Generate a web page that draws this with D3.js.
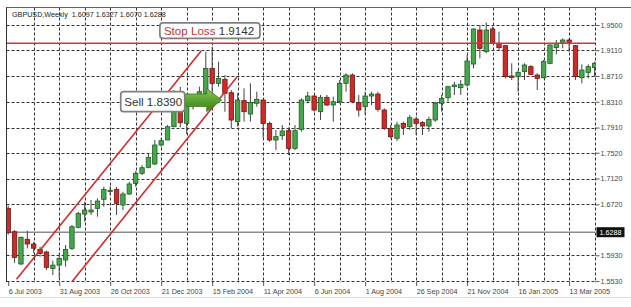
<!DOCTYPE html>
<meta charset="utf-8">
<html>
<head>
<style>
  body { margin: 0; background: #fff; }
  svg text { font-family: "Liberation Sans", Arial, sans-serif; }
</style>
</head>
<body>
<script src="https://d3js.org/d3.v7.min.js"></script>
<div id="chart"></div>
<script>

// weekly GBPUSD candles, week of 6 Jul 2003 up to 10 Apr 2005 (93 bars)
var open = [1.6658,1.6296,1.5795,1.6178,1.6105,1.6022,1.5981,1.5727,1.5778,1.5857,
            1.6038,1.6364,1.6570,1.6601,1.6658,1.6798,1.6920,1.6953,1.6709,1.6880,
            1.7046,1.7201,1.7294,1.7345,1.7640,1.7717,1.7923,1.8208,1.7976,1.8260,
            1.8415,1.8441,1.8828,1.8596,1.8658,1.8451,1.8001,1.8327,1.8120,1.8286,
            1.8337,1.7975,1.7717,1.7784,1.7862,1.7588,1.7882,1.8327,1.8399,1.8156,
            1.8379,1.8260,1.8311,1.8596,1.8725,1.8296,1.8234,1.8399,1.8430,1.8182,
            1.7898,1.7743,1.7975,1.7924,1.8043,1.7986,1.7934,1.8027,1.8286,1.8373,
            1.8544,1.8528,1.8570,1.8895,1.9422,1.9087,1.9438,1.9216,1.9180,1.8709,
            1.8699,1.8777,1.8854,1.8725,1.8683,1.8906,1.9149,1.9231,1.9267,1.9180,
            1.8683,1.8766,1.8839];
var high = [1.6700,1.6320,1.6220,1.6310,1.6140,1.6063,1.6000,1.5846,1.5960,1.6089,
            1.6400,1.6605,1.6760,1.6787,1.6813,1.6993,1.7000,1.6993,1.6916,1.7070,
            1.7237,1.7330,1.7511,1.7717,1.7744,1.7950,1.8492,1.8543,1.8311,1.8400,
            1.8544,1.9087,1.9164,1.8931,1.8725,1.8492,1.8441,1.8518,1.8596,1.8466,
            1.8345,1.8001,1.7872,1.7950,1.7913,1.7950,1.8363,1.8466,1.8415,1.8415,
            1.8415,1.8389,1.8647,1.8751,1.8751,1.8415,1.8466,1.8466,1.8466,1.8208,
            1.7950,1.8000,1.8001,1.8105,1.8079,1.8012,1.8079,1.8311,1.8415,1.8559,
            1.8621,1.8647,1.9035,1.9448,1.9500,1.9541,1.9474,1.9397,1.9190,1.8906,
            1.8802,1.8906,1.8880,1.8751,1.8957,1.9200,1.9267,1.9293,1.9293,1.9190,
            1.8890,1.8890,1.8932];
var low  = [1.6250,1.5815,1.5780,1.6038,1.5960,1.5908,1.5702,1.5624,1.5573,1.5753,
            1.6012,1.6348,1.6450,1.6554,1.6528,1.6683,1.6860,1.6554,1.6632,1.6864,
            1.6993,1.7175,1.7278,1.7330,1.7613,1.7717,1.7914,1.7914,1.7810,1.8190,
            1.8389,1.8389,1.8441,1.8544,1.8156,1.7898,1.7924,1.8001,1.8001,1.8234,
            1.7743,1.7691,1.7562,1.7717,1.7484,1.7562,1.7846,1.8286,1.8156,1.8027,
            1.8244,1.8001,1.8286,1.8466,1.8286,1.8079,1.8105,1.8260,1.8156,1.7872,
            1.7743,1.7700,1.7795,1.7872,1.7795,1.7795,1.7846,1.8001,1.8156,1.8311,
            1.8415,1.8415,1.8544,1.8828,1.8983,1.9061,1.9216,1.9097,1.8673,1.8647,
            1.8466,1.8647,1.8725,1.8492,1.8673,1.8890,1.9045,1.9138,1.9087,1.8647,
            1.8596,1.8673,1.8699];
var close = [1.6280,1.5898,1.6209,1.6105,1.6040,1.5960,1.5743,1.5778,1.5883,1.6022,
             1.6373,1.6580,1.6632,1.6632,1.6771,1.6953,1.6935,1.6736,1.6880,1.7035,
             1.7201,1.7288,1.7449,1.7640,1.7706,1.7923,1.8208,1.7985,1.8260,1.8340,
             1.8466,1.8828,1.8596,1.8673,1.8441,1.8027,1.8337,1.8156,1.8296,1.8348,
             1.7975,1.7717,1.7769,1.7857,1.7588,1.7862,1.8337,1.8399,1.8182,1.8379,
             1.8260,1.8311,1.8596,1.8725,1.8311,1.8182,1.8399,1.8430,1.8193,1.7898,
             1.7769,1.7950,1.7913,1.8063,1.7975,1.7934,1.8037,1.8286,1.8363,1.8544,
             1.8570,1.8580,1.8942,1.9438,1.9138,1.9422,1.9231,1.9149,1.8699,1.8689,
             1.8766,1.8880,1.8735,1.8673,1.8932,1.9190,1.9216,1.9267,1.9231,1.8699,
             1.8802,1.8854,1.8906];

var dateLabels = ["6 Jul 2003","31 Aug 2003","26 Oct 2003","21 Dec 2003","15 Feb 2004",
                  "11 Apr 2004","6 Jun 2004","1 Aug 2004","26 Sep 2004","21 Nov 2004",
                  "16 Jan 2005","13 Mar 2005"];
var dateTickBars = [0, 8, 16, 24, 32, 40, 48, 56, 64, 72, 80, 88];
var priceTicks = ["1.9500","1.9110","1.8710","1.8310","1.7910","1.7520","1.7120","1.6720","1.5930","1.5530"];

var titleText = "GBPUSD,Weekly  1.6097 1.6327 1.6070 1.6288";
var lastPrice = 1.6288;
var stopLine = 1.9216;          // level where the stop line is drawn
var stopText = ["Stop Loss", "1.9142"];
var sellText = "Sell 1.8390";
var sellPoint = [33.5, 1.8337]; // arrow tip (bar, price)
var channelUpper = [[1.3, 1.5557], [30.3, 1.9100]];
var channelLower = [[10.0, 1.5520], [35.9, 1.8694]];

var width = 631, height = 307;
var pL = 6.5, pT = 7.5, pR = 595.5, pB = 282;

var svg = d3.select("#chart").append("svg")
    .attr("width", width).attr("height", height);

var x = d3.scaleLinear().domain([0, 92]).range([8.2, 594.6]);
var y = d3.scaleLinear().domain([1.5530, 1.9500]).range([281.1, 25]);

svg.append("clipPath").attr("id", "plotclip")
  .append("rect")
    .attr("x", pL + 0.5).attr("y", pT + 0.5)
    .attr("width", pR - pL).attr("height", pB - pT);

// outer frame
svg.append("line").attr("x1", pL - 0.5).attr("x2", width).attr("y1", pT).attr("y2", pT)
    .style("stroke", "#666").style("stroke-width", 1);
svg.append("line").attr("x1", 0).attr("x2", width).attr("y1", 297.5).attr("y2", 297.5)
    .style("stroke", "#ddd").style("stroke-width", 1);

// grid
var grid = svg.append("g").attr("clip-path", "url(#plotclip)");
grid.selectAll(".vg")
    .data(d3.range(4, 93, 4))
    .enter().append("line")
      .attr("x1", function(d) { return Math.round(x(d)) + 0.5; })
      .attr("x2", function(d) { return Math.round(x(d)) + 0.5; })
      .attr("y1", pT).attr("y2", pB + 2)
      .style("stroke", "#333").style("stroke-dasharray", "3,2");
grid.selectAll(".hg")
    .data(priceTicks)
    .enter().append("line")
      .attr("x1", pL).attr("x2", pR + 2)
      .attr("y1", function(d) { return Math.round(y(+d)) + 0.5; })
      .attr("y2", function(d) { return Math.round(y(+d)) + 0.5; })
      .style("stroke", "#333").style("stroke-dasharray", "3,2");

// last price line
svg.append("line")
    .attr("x1", pL).attr("x2", pR)
    .attr("y1", y(lastPrice)).attr("y2", y(lastPrice))
    .style("stroke", "#8c8c8c").style("stroke-width", 1.4);

// left border
svg.append("line").attr("x1", pL).attr("x2", pL).attr("y1", pT).attr("y2", pB)
    .style("stroke", "#333").style("stroke-width", 1);

// candles
var bars = d3.range(open.length);
var cg = svg.append("g").attr("clip-path", "url(#plotclip)");
cg.selectAll(".wick")
    .data(bars)
    .enter().append("line")
      .attr("x1", function(i) { return x(i); })
      .attr("x2", function(i) { return x(i); })
      .attr("y1", function(i) { return y(high[i]); })
      .attr("y2", function(i) { return y(low[i]); })
      .style("stroke", "#444").style("stroke-width", 1);
cg.selectAll(".body")
    .data(bars)
    .enter().append("rect")
      .attr("x", function(i) { return x(i) - 2.2; })
      .attr("width", 4.4)
      .attr("y", function(i) { return y(Math.max(open[i], close[i])); })
      .attr("height", function(i) { return Math.max(1, Math.abs(y(open[i]) - y(close[i]))); })
      .style("fill", function(i) { return close[i] >= open[i] ? "#46a84c" : "#cf2a2a"; })
      .style("stroke", function(i) { return close[i] >= open[i] ? "#1f5e25" : "#741414"; })
      .style("stroke-width", 0.8);

// channel lines
var ln = d3.line()
    .x(function(d) { return x(d[0]); })
    .y(function(d) { return y(d[1]); });
cg.selectAll(".chan")
    .data([channelUpper, channelLower])
    .enter().append("path")
      .attr("d", ln)
      .style("fill", "none").style("stroke", "#d12c2c").style("stroke-width", 1.6);

// stop loss line
cg.append("line")
    .attr("x1", pL).attr("x2", pR)
    .attr("y1", y(stopLine)).attr("y2", y(stopLine))
    .style("stroke", "#cc3b3b").style("stroke-width", 1.5);

// axes
var yAxis = d3.axisRight(y)
    .tickValues(priceTicks.map(Number))
    .tickFormat(d3.format(".4f"))
    .tickSize(4).tickPadding(1);
var ya = svg.append("g").attr("transform", "translate(" + pR + ",0)").call(yAxis);
ya.select(".domain").remove();
ya.selectAll("line").style("stroke", "#555");
ya.selectAll("text").style("font-size", "7.2px").style("fill", "#444");

var xAxis = d3.axisBottom(x)
    .tickValues(dateTickBars)
    .tickFormat(function(d, i) { return dateLabels[i]; })
    .tickSize(4).tickPadding(3);
var xa = svg.append("g").attr("transform", "translate(0," + pB + ")").call(xAxis);
xa.select(".domain").remove();
xa.selectAll("line").style("stroke", "#555");
xa.selectAll("text").style("font-size", "7.2px").style("fill", "#444")
    .attr("text-anchor", "start").attr("x", 0);

// last price tag
svg.append("rect")
    .attr("x", pR + 1).attr("y", y(lastPrice) - 5)
    .attr("width", 28).attr("height", 10).style("fill", "#111");
svg.append("text")
    .attr("x", pR + 4).attr("y", y(lastPrice) + 2.6)
    .style("font-size", "7.2px").style("fill", "#fff")
    .text(lastPrice.toFixed(4));

// title
svg.append("text")
    .attr("x", 12).attr("y", 17)
    .style("font-size", "7.2px").style("fill", "#222").style("white-space", "pre")
    .text(titleText);

// stop loss label
var sx = x(23.8), sy = y(stopLine);
svg.append("rect")
    .attr("x", sx).attr("y", sy - 20.5).attr("width", 100).attr("height", 15.5)
    .attr("rx", 3).style("fill", "#fff").style("stroke", "#808080").style("stroke-width", 1.7);
var st = svg.append("text")
    .attr("x", sx + 4).attr("y", sy - 8.5)
    .style("font-size", "11.6px");
st.append("tspan").style("fill", "#c23434").text(stopText[0] + " ");
st.append("tspan").style("fill", "#333").text(stopText[1]);

// sell arrow and label
var grad = svg.append("defs").append("linearGradient")
    .attr("id", "arrowgrad").attr("x1", 0).attr("x2", 0).attr("y1", 0).attr("y2", 1);
grad.append("stop").attr("offset", "0%").attr("stop-color", "#8fcb5a");
grad.append("stop").attr("offset", "45%").attr("stop-color", "#5fa834");
grad.append("stop").attr("offset", "100%").attr("stop-color", "#3a7d1f");

var tx = x(sellPoint[0]), ty = y(sellPoint[1]);
svg.append("path")
    .attr("d", "M" + (tx - 37) + "," + (ty - 6) +
               " L" + (tx - 15) + "," + (ty - 6) +
               " L" + (tx - 15) + "," + (ty - 11.5) +
               " L" + tx + "," + ty +
               " L" + (tx - 15) + "," + (ty + 11.5) +
               " L" + (tx - 15) + "," + (ty + 6.5) +
               " L" + (tx - 37) + "," + (ty + 6.5) + " Z")
    .style("fill", "url(#arrowgrad)").style("stroke", "#3d7a22").style("stroke-width", 0.8);

svg.append("rect")
    .attr("x", tx - 101).attr("y", ty - 8.3).attr("width", 64).attr("height", 20)
    .attr("rx", 3).style("fill", "#fff").style("stroke", "#808080").style("stroke-width", 1.7);
svg.append("text")
    .attr("x", tx - 97.5).attr("y", ty + 5.5)
    .style("font-size", "11.6px").style("fill", "#333")
    .text(sellText);

</script>
</body>
</html>
